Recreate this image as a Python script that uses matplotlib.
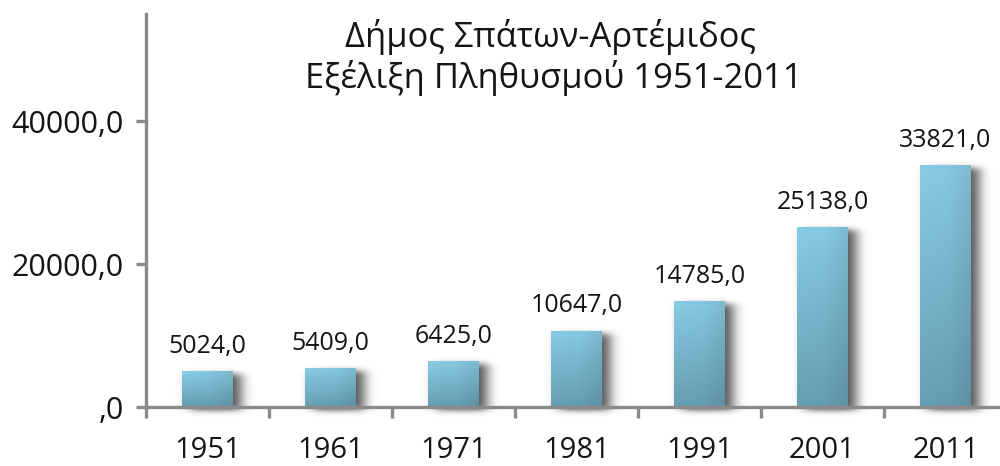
import numpy as np
import matplotlib
matplotlib.use("Agg")
import matplotlib.pyplot as plt
from matplotlib.colors import to_rgb

# ---- data ----
years = ["1951", "1961", "1971", "1981", "1991", "2001", "2011"]
population = [5024, 5409, 6425, 10647, 14785, 25138, 33821]
value_labels = ["5024,0", "5409,0", "6425,0", "10647,0", "14785,0", "25138,0", "33821,0"]
y_ticks = [0, 20000, 40000]
y_tick_labels = [",0", "20000,0", "40000,0"]
title_line1 = "Δήμος Σπάτων-Αρτέμιδος"
title_line2 = "Εξέλιξη Πληθυσμού 1951-2011"

FONT = "Open Sans"
TXT = "#151515"
AXC = "#8a8a8a"

fig = plt.figure(figsize=(10, 4.66), dpi=100)
ax = fig.add_axes([0.146, 0.1266, 0.861, 0.8433])
ymax = 55000
n = len(years)
ax.set_xlim(-0.5, n - 0.5)
ax.set_ylim(0, ymax)

bar_w = 0.41
x = np.arange(n)

# ---- shadow as blurred image computed from bar rectangles ----
W, H = 861, 393
px_x = n / W
px_y = ymax / H
xs = -0.5 + (np.arange(W) + 0.5) * px_x
ys = (np.arange(H + 30) - 30 + 0.5) * px_y
XX, YY = np.meshgrid(xs, ys)
mask = np.zeros_like(XX)
offx, offy = 8 * px_x, -3 * px_y
for xi, v in zip(x, population):
    m = (XX >= xi - bar_w / 2 + offx) & (XX <= xi + bar_w / 2 + offx) & \
        (YY >= 0 + offy) & (YY <= v + offy)
    mask[m] = 1.0

def blur1d(a, r, axis):
    k = np.exp(-0.5 * (np.arange(-3 * r, 3 * r + 1) / r) ** 2)
    k /= k.sum()
    return np.apply_along_axis(lambda s: np.convolve(s, k, mode="same"), axis, a)

sh = blur1d(mask, 6, 1)
sh = blur1d(sh, 3, 0)
rgba = np.zeros(sh.shape + (4,))
rgba[..., :3] = 0.36
rgba[..., 3] = np.clip(sh * 1.05, 0, 1)
ax.imshow(rgba, extent=(-0.5, n - 0.5, ys[0] - px_y / 2, ys[-1] + px_y / 2),
          origin="lower", aspect="auto", zorder=1, interpolation="bilinear",
          clip_on=False)

# ---- bars with gradient ----
top_c = np.array(to_rgb("#84c6de"))
bot_c = np.array(to_rgb("#6399ad"))
bars = ax.bar(x, population, width=bar_w, color="none", edgecolor="none", zorder=2)
gy = np.linspace(0, 1, 200)[:, None]
gx = np.linspace(0, 1, 50)[None, :]
for b in bars:
    x0, y0 = b.get_x(), b.get_y()
    w, h = b.get_width(), b.get_height()
    col = bot_c[None, None, :] * (1 - gy[..., None]) + top_c[None, None, :] * gy[..., None]
    dark = 1 - 0.06 * np.clip((gx - 0.55) / 0.45, 0, 1) + 0.03 * (1 - gx)
    col = np.clip(col * dark[..., None], 0, 1)
    im = ax.imshow(col, extent=(x0, x0 + w, y0, y0 + h), origin="lower",
                   aspect="auto", zorder=3, interpolation="bilinear")
    im.set_clip_path(b)

ax.set_xlim(-0.5, n - 0.5)
ax.set_ylim(0, ymax)

# value labels
for xi, v, lab in zip(x, population, value_labels):
    ax.annotate(lab, (xi, v), xytext=(0, 9), textcoords="offset points",
                ha="center", va="bottom", fontsize=18, family=FONT, color=TXT,
                zorder=5)

# ---- axes styling ----
for s in ["top", "right"]:
    ax.spines[s].set_visible(False)
for s in ["left", "bottom"]:
    ax.spines[s].set_color(AXC)
    ax.spines[s].set_linewidth(2.4)
    ax.spines[s].set_zorder(4)

ax.set_yticks(y_ticks)
ax.set_yticklabels(y_tick_labels, family=FONT, fontsize=22, color=TXT)
ax.tick_params(axis="y", direction="out", length=7, width=2.4, color=AXC, pad=9)

ax.set_xticks(x)
ax.set_xticklabels(years, family=FONT, fontsize=21, color=TXT)
ax.set_xticks(np.arange(n + 1) - 0.5, minor=True)
ax.tick_params(axis="x", which="major", length=0, pad=21)
ax.tick_params(axis="x", which="minor", direction="out", length=8, width=2.4, color=AXC)

# ---- title ----
fig.text(0.550, 1 - 37 / 466, title_line1, ha="center", va="center",
         family=FONT, fontsize=24.8, color=TXT)
fig.text(0.554, 1 - 78 / 466, title_line2, ha="center", va="center",
         family=FONT, fontsize=24.8, color=TXT)

fig.savefig("out.png", dpi=100)
